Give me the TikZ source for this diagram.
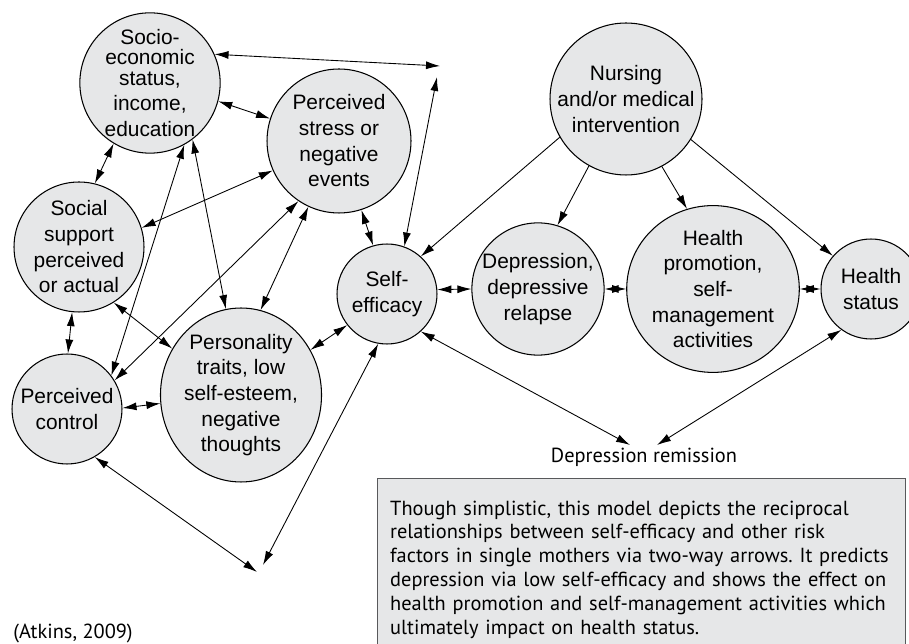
\documentclass[tikz,border=0pt]{standalone}
\usepackage{fontspec}
\setmainfont{Liberation Sans}
\newfontfamily\notefont{PT Sans}
\usetikzlibrary{arrows.meta,shapes.geometric,positioning}
\definecolor{circgray}{HTML}{E6E7E8}
\definecolor{boxline}{HTML}{58595B}
\tikzset{
    factor/.style={circle, draw, fill=circgray, inner sep=0pt, align=center, line width=0.6pt,
                   font=\fontsize{11.9}{14.6}\selectfont},
    oval/.style={factor, ellipse},
    edge/.style={draw, line width=0.5pt, -{Latex[length=2.8mm,width=1.6mm]}},
    biedge/.style={draw, line width=0.5pt, {Latex[length=2.8mm,width=1.6mm]}-{Latex[length=2.8mm,width=1.6mm]}},
    notebox/.style={draw=boxline, fill=circgray, line width=0.8pt, align=left, anchor=north west,
                    inner xsep=0.25cm, font=\notefont\fontsize{11.6}{13.6}\selectfont\frenchspacing}
}

\begin{document}
\begin{tikzpicture}[x=0.02cm, y=-0.02cm]
    \useasboundingbox (0,0) rectangle (909,644);

    % Nodes
    \node[factor, minimum size=2.8cm] (ses) at (150,83) {Socio-\\[-3pt]economic\\[-3pt]status,\\income,\\education};
    \node[factor, minimum size=2.88cm] (stress) at (339,141) {Perceived\\stress or\\negative\\events};
    \node[factor, minimum size=2.6cm] (social) at (79,247) {Social\\support\\perceived\\or actual};
    \node[factor, minimum size=2.2cm] (control) at (67,409) {Perceived\\control};
    \node[oval, minimum width=3.1cm, minimum height=3.48cm] (traits) at (241,395) {Personality\\traits, low\\self-esteem,\\negative\\thoughts};
    \node[factor, minimum size=2cm] (selfeff) at (387,294) {Self-\\efficacy};
    \node[factor, minimum size=2.9cm] (nursing) at (626,99) {Nursing\\and/or medical\\intervention};
    \node[factor, minimum size=2.6cm] (relapse) at (538,289) {Depression,\\depressive\\relapse};
    \node[oval, minimum width=2.94cm, minimum height=3.3cm] (promo) at (713,289) {Health\\promotion,\\self-\\management\\activities};
    \node[factor, minimum size=2cm] (status) at (871,289) {Health\\status};

    \node[font=\notefont\fontsize{11.6}{13.6}\selectfont] (remission) at (644,457) {Depression remission};
    \node[notebox, text width=10.06cm, minimum height=3.64cm] (note) at (377,478)
        {Though simplistic, this model depicts the reciprocal\\
         relationships between self-efficacy and other risk\\
         factors in single mothers via two-way arrows. It predicts\\
         depression via low self-efficacy and shows the effect on\\
         health promotion and self-management activities which\\
         ultimately impact on health status.};
    \node[font=\notefont\fontsize{11.6}{13.6}\selectfont, anchor=west, inner xsep=0pt] (source) at (13,633) {(Atkins, 2009)};

    % loose ends
    \coordinate (topA) at (440,66);
    \coordinate (topB) at (437,77);
    \coordinate (lowA) at (257,572);
    \coordinate (lowB) at (263,565);
    \coordinate (remA) at (630,445);
    \coordinate (remB) at (657,445);

    % edges
    \draw[biedge] (ses.24.8) -- (topA);
    \draw[biedge] (topB) -- (selfeff.70.6);
    \draw[biedge] (ses.-15.2) -- (stress.162.3);
    \draw[biedge] (ses.239.3) -- (social.76.2);
    \draw[biedge] (ses.-53) -- (traits.100.1);
    \draw[biedge] (ses.-61.3) -- (control.37.1);
    \draw[biedge] (stress.204.8) -- (social.17.4);
    \draw[biedge] (stress.236.7) -- (control.31.8);
    \draw[biedge] (stress.245.1) -- (traits.77.7);
    \draw[biedge] (stress.288.4) -- (selfeff.106);
    \draw[biedge] (social.264) -- (control.89);
    \draw[biedge] (social.302.7) -- (traits.146.5);
    \draw[biedge] (control.1) -- (traits.186.7);
    \draw[biedge] (traits.33.7) -- (selfeff.218.2);
    \draw[biedge] (control.300.5) -- (lowA);
    \draw[biedge] (selfeff.260) -- (lowB);

    \draw[edge] (nursing.210.7) -- (selfeff.48.1);
    \draw[edge] (nursing.241.4) -- (relapse.73.2);
    \draw[edge] (nursing.298.7) -- (promo.108.2);
    \draw[edge] (nursing.328.5) -- (status.139.8);

    \draw[biedge] (selfeff.5.7) -- (relapse.west);
    \draw[biedge] (relapse.east) -- (promo.west);
    \draw[biedge] (promo.east) -- (status.west);
    \draw[biedge] (selfeff.312.7) -- (remA);
    \draw[biedge] (status.234.8) -- (remB);
\end{tikzpicture}
\end{document}
